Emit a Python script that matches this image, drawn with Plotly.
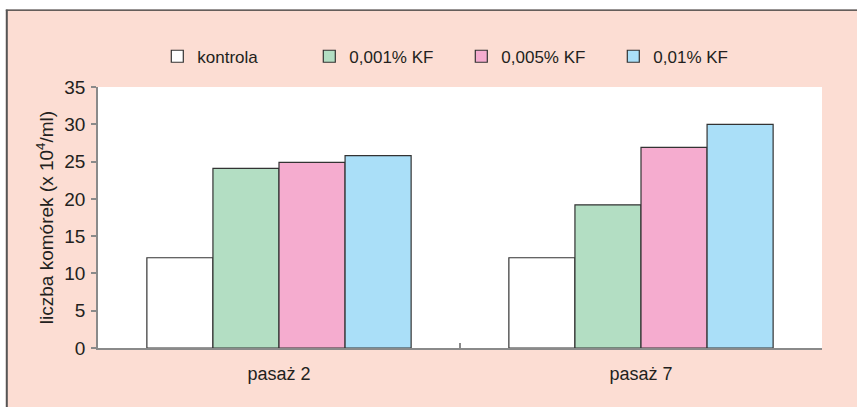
import plotly.graph_objects as go

categories = ["pasaż 2", "pasaż 7"]
series_names = ["kontrola", "0,001% KF", "0,005% KF", "0,01% KF"]
kontrola = [12.1, 12.1]
kf_0001 = [24.1, 19.2]
kf_0005 = [24.9, 26.9]
kf_001 = [25.8, 30.0]
y_ticks = [0, 5, 10, 15, 20, 25, 30, 35]

colors = ["#ffffff", "#b3dec3", "#f5accf", "#aadff8"]
values = [kontrola, kf_0001, kf_0005, kf_001]

FONT = "Liberation Sans, Arial, sans-serif"
TXT = "#231f20"
PINK = "#fcddd3"

fig = go.Figure()
for name, vals, col in zip(series_names, values, colors):
    fig.add_trace(go.Bar(
        x=categories, y=vals, name=name,
        marker=dict(color=col, line=dict(color="#333333", width=1.2)),
    ))

# plot-area geometry in px (for decorative frame shapes)
L, R, T, B = 97.7, 821.7, 87.3, 348.3
W, H = R - L, B - T
def px(x):
    return (x - L) / W
def py(y):
    return (B - y) / H

shapes = [
    dict(type="rect", xref="paper", yref="paper", x0=px(-5), x1=px(900), y0=py(-5), y1=py(10),
         fillcolor="white", line=dict(width=0), layer="below"),
    dict(type="rect", xref="paper", yref="paper", x0=px(-5), x1=px(5.5), y0=py(-5), y1=py(420),
         fillcolor="white", line=dict(width=0), layer="below"),
    dict(type="line", xref="paper", yref="paper", x0=px(5.5), x1=px(900), y0=py(10.5), y1=py(10.5),
         line=dict(color="#333333", width=1.3)),
    dict(type="line", xref="paper", yref="paper", x0=px(6.5), x1=px(6.5), y0=py(10), y1=py(420),
         line=dict(color="#555555", width=2)),
]

fig.update_layout(
    width=857, height=407,
    margin=dict(l=L, r=857 - R, t=T, b=407 - B),
    paper_bgcolor=PINK, plot_bgcolor="white",
    barmode="group", bargap=0.27, bargroupgap=0,
    font=dict(family=FONT, size=17, color=TXT),
    showlegend=True,
    legend=dict(orientation="h", x=px(157), xanchor="left", y=py(57), yanchor="middle",
                bgcolor="rgba(0,0,0,0)", font=dict(size=17, color=TXT),
                entrywidth=107, entrywidthmode="pixels", traceorder="normal"),
    shapes=shapes,
    xaxis=dict(showline=True, linecolor="#8a8a8a", linewidth=1.5, ticks="inside",
               tickson="boundaries", ticklen=5, tickcolor="#8a8a8a", tickwidth=1.5,
               showgrid=False, ticklabelstandoff=9, tickfont=dict(size=18, color=TXT)),
    yaxis=dict(range=[0, 35], tickvals=y_ticks, showline=True, linecolor="#8a8a8a",
               linewidth=1.5, ticks="outside", ticklen=5, tickcolor="#8a8a8a", tickwidth=1.5,
               showgrid=False, zeroline=False, ticklabelstandoff=2,
               tickfont=dict(size=19, color=TXT),
               title=dict(text="liczba komórek (x 10<sup>4</sup>/ml)", standoff=6,
                          font=dict(size=19, color=TXT))),
)

fig.write_html("out.html", config={"displayModeBar": False},
               post_script="document.body.style.margin='0px';")
